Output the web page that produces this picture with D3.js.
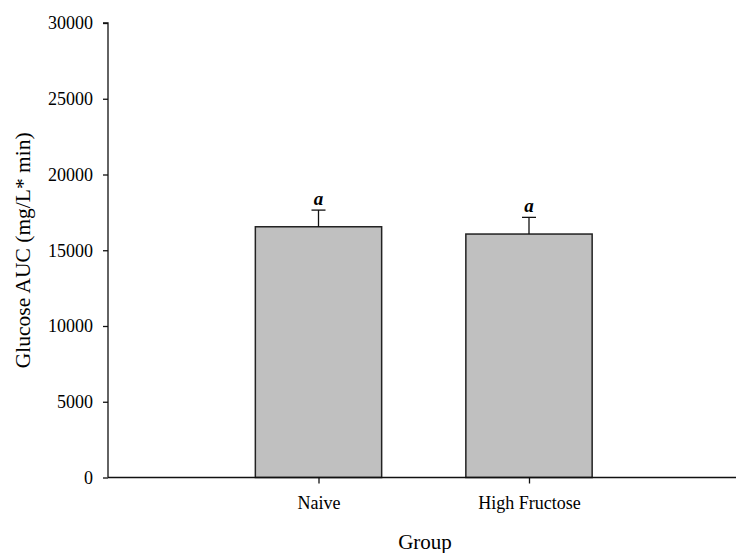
<!DOCTYPE html>
<html>
<head>
<meta charset="utf-8">
<script src="https://cdn.jsdelivr.net/npm/d3@7"></script>
<style>
  html, body { margin: 0; padding: 0; background: #fff; }
  svg { display: block; }
  text { font-family: "Liberation Serif", "Times New Roman", serif; fill: #000; }
</style>
</head>
<body>
<div id="chart"></div>
<script>
// Glucose AUC by group, mean ± SEM
const groups = ["Naive", "High Fructose"];
const means = [16550, 16070];
const errors = [1100, 1100];
const sigLetters = ["a", "a"];
const yTicks = [0, 5000, 10000, 15000, 20000, 25000, 30000];

const W = 736, H = 553;
const svg = d3.select("#chart").append("svg")
  .attr("width", W).attr("height", H);

const x0 = 108, slot = 210.5;
// Groups sit at positions 1 and 2 on a 0..3 axis
const x = d3.scaleLinear().domain([0, 3]).range([x0, x0 + 3 * slot]);
const y = d3.scaleLinear().domain([0, 30000]).range([477.5, 23]);
const barW = 0.6 * slot;

const data = groups.map((g, i) => ({ g, pos: i + 1, mean: means[i], err: errors[i], letter: sigLetters[i] }));

// Bars
svg.selectAll("rect.bar").data(data).enter().append("rect")
  .attr("class", "bar")
  .attr("x", d => x(d.pos) - barW / 2)
  .attr("y", d => y(d.mean))
  .attr("width", barW)
  .attr("height", d => y(0) - y(d.mean))
  .attr("fill", "#c0c0c0")
  .attr("stroke", "#222")
  .attr("stroke-width", 1.5);

// Upper error bars
const eb = svg.selectAll("g.err").data(data).enter().append("g").attr("class", "err");
eb.append("line")
  .attr("x1", d => x(d.pos)).attr("x2", d => x(d.pos))
  .attr("y1", d => y(d.mean)).attr("y2", d => y(d.mean + d.err))
  .attr("stroke", "#111").attr("stroke-width", 1.3);
eb.append("line")
  .attr("x1", d => x(d.pos) - 7).attr("x2", d => x(d.pos) + 7)
  .attr("y1", d => y(d.mean + d.err)).attr("y2", d => y(d.mean + d.err))
  .attr("stroke", "#111").attr("stroke-width", 1.3);

// Significance letters
svg.selectAll("text.sig").data(data).enter().append("text")
  .attr("class", "sig")
  .attr("x", d => x(d.pos))
  .attr("y", d => y(d.mean + d.err) - 5)
  .attr("text-anchor", "middle")
  .attr("font-size", 19)
  .attr("font-weight", "bold")
  .attr("font-style", "italic")
  .text(d => d.letter);

// Y axis
const yAxis = d3.axisLeft(y).tickValues(yTicks).tickSize(5).tickPadding(10).tickFormat(d3.format("d"));
const gy = svg.append("g").attr("transform", `translate(${x0},0)`).call(yAxis);
gy.select(".domain").attr("d", `M-5,${y(30000)}H0V${y(0)}`).attr("stroke", "#111").attr("stroke-width", 1.3);
gy.selectAll(".tick line").attr("stroke", "#111").attr("stroke-width", 1.3);
gy.selectAll(".tick text").attr("font-family", "Liberation Serif, serif").attr("font-size", 18).attr("fill", "#000");

// X axis
const xAxis = d3.axisBottom(x).tickValues(data.map(d => d.pos)).tickSize(6).tickPadding(13)
  .tickFormat((d, i) => groups[i]);
const gx = svg.append("g").attr("transform", `translate(0,${y(0)})`).call(xAxis);
gx.select(".domain").attr("d", `M${x0},0H${x0 + 3 * slot}`).attr("stroke", "#111").attr("stroke-width", 1.3);
gx.selectAll(".tick line").attr("stroke", "#111").attr("stroke-width", 1.3);
gx.selectAll(".tick text").attr("font-family", "Liberation Serif, serif").attr("font-size", 18).attr("fill", "#000");

// Axis titles
svg.append("text")
  .attr("x", 425).attr("y", 549)
  .attr("text-anchor", "middle")
  .attr("font-size", 21)
  .text("Group");

svg.append("text")
  .attr("transform", `translate(30,${(y(0) + y(30000)) / 2}) rotate(-90)`)
  .attr("text-anchor", "middle")
  .attr("font-size", 21.5)
  .text("Glucose AUC (mg/L* min)");
</script>
</body>
</html>
